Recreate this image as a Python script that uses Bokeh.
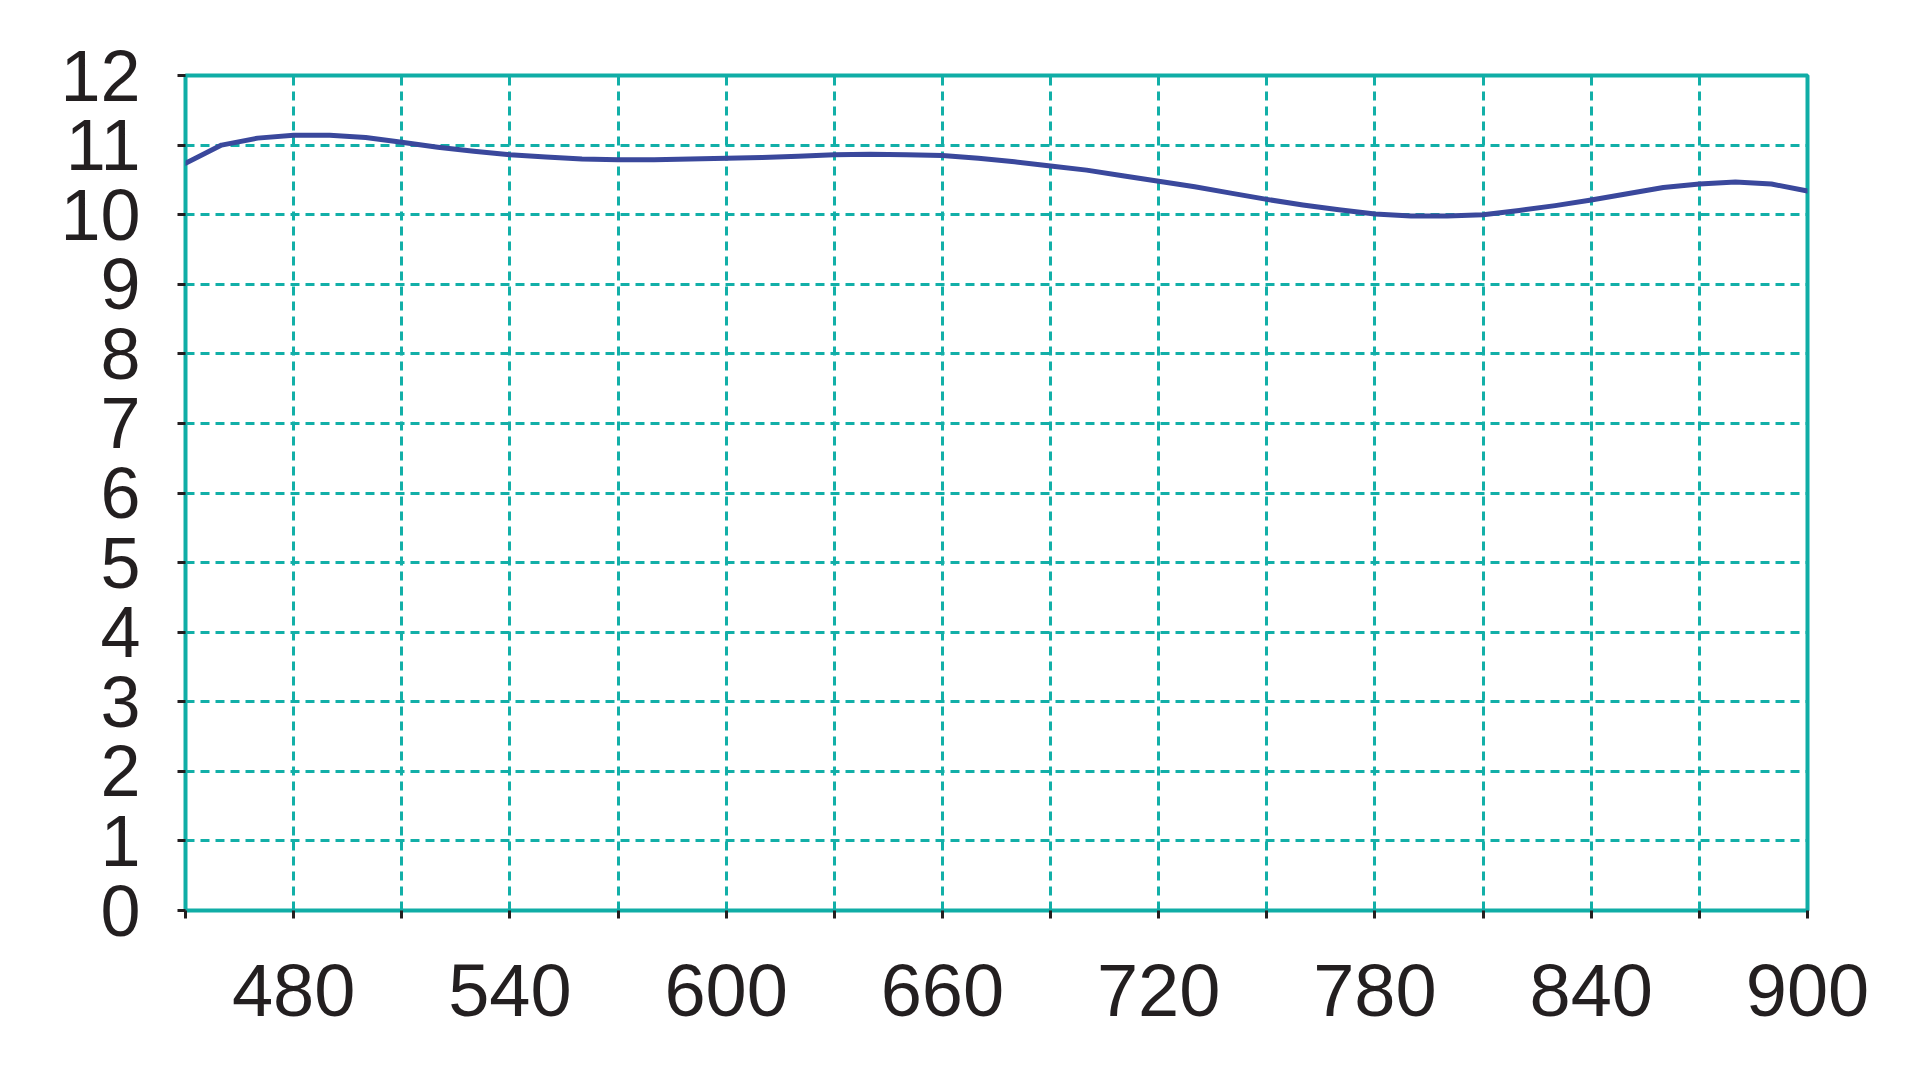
from bokeh.plotting import figure
from bokeh.models import FixedTicker
from bokeh.embed import file_html
from bokeh.resources import INLINE

# ---- data ----
wavelength = [450, 460, 470, 480, 490, 500, 510, 520, 530, 540, 550, 560, 570, 580, 590, 600,
              610, 620, 630, 640, 650, 660, 670, 680, 690, 700, 710, 720, 730, 740, 750,
              760, 770, 780, 790, 800, 810, 820, 830, 840, 850, 860, 870, 880, 890, 900]
values = [10.74, 11.00, 11.10, 11.14, 11.14, 11.11, 11.04, 10.97, 10.91, 10.86, 10.83, 10.80,
          10.79, 10.79, 10.80, 10.81, 10.82, 10.84, 10.86, 10.87, 10.86, 10.85, 10.81, 10.76,
          10.70, 10.64, 10.56, 10.48, 10.40, 10.31, 10.22, 10.14, 10.07, 10.01, 9.98, 9.98,
          10.00, 10.06, 10.13, 10.21, 10.30, 10.39, 10.44, 10.47, 10.44, 10.34]

x_labeled_ticks = [480, 540, 600, 660, 720, 780, 840, 900]
x_unlabeled_ticks = [450, 510, 570, 630, 690, 750, 810, 870]
x_grid_ticks = [450, 480, 510, 540, 570, 600, 630, 660, 690, 720, 750, 780, 810, 840, 870, 900]
y_ticks = [0, 1, 2, 3, 4, 5, 6, 7, 8, 9, 10, 11, 12]

TEAL = "#10ADA6"
GRID = "#12AFA8"
INK = "#231F20"
LINE = "#3A489C"
FONT = "Liberation Sans"

p = figure(frame_width=1622, frame_height=835,
           x_range=(450, 900), y_range=(0, 12),
           output_backend="svg", toolbar_location=None,
           min_border_left=185, min_border_top=75,
           min_border_right=90, min_border_bottom=140,
           background_fill_color="white", border_fill_color="white")

p.outline_line_color = TEAL
p.outline_line_width = 4
p.outline_line_alpha = 1.0

# grids
p.xgrid.ticker = FixedTicker(ticks=x_grid_ticks)
p.ygrid.ticker = FixedTicker(ticks=y_ticks)
for g in (p.xgrid, p.ygrid):
    g.grid_line_color = GRID
    g.grid_line_width = 3
    g.grid_line_dash = "9 6"
    g.grid_line_alpha = 1.0

# x axis
xa = p.xaxis[0]
xa.ticker = FixedTicker(ticks=x_labeled_ticks, minor_ticks=x_unlabeled_ticks)
xa.axis_line_color = None
xa.major_tick_line_color = INK
xa.major_tick_line_width = 3
xa.major_tick_out = 8
xa.major_tick_in = 0
xa.minor_tick_line_color = INK
xa.minor_tick_line_width = 3
xa.minor_tick_out = 8
xa.minor_tick_in = 0
xa.major_label_text_font = FONT
xa.major_label_text_font_size = "74px"
xa.major_label_text_color = INK
xa.major_label_standoff = 46

# y axis
ya = p.yaxis[0]
ya.ticker = FixedTicker(ticks=y_ticks)
ya.axis_line_color = None
ya.major_tick_line_color = INK
ya.major_tick_line_width = 3
ya.major_tick_out = 8
ya.major_tick_in = 0
ya.minor_tick_line_color = None
ya.major_label_text_font = FONT
ya.major_label_text_font_size = "72px"
ya.major_label_text_color = INK
ya.major_label_standoff = 37

p.line(wavelength, values, line_color=LINE, line_width=5, line_join="round", line_cap="round")

open("out.html", "w").write(file_html(p, INLINE))
